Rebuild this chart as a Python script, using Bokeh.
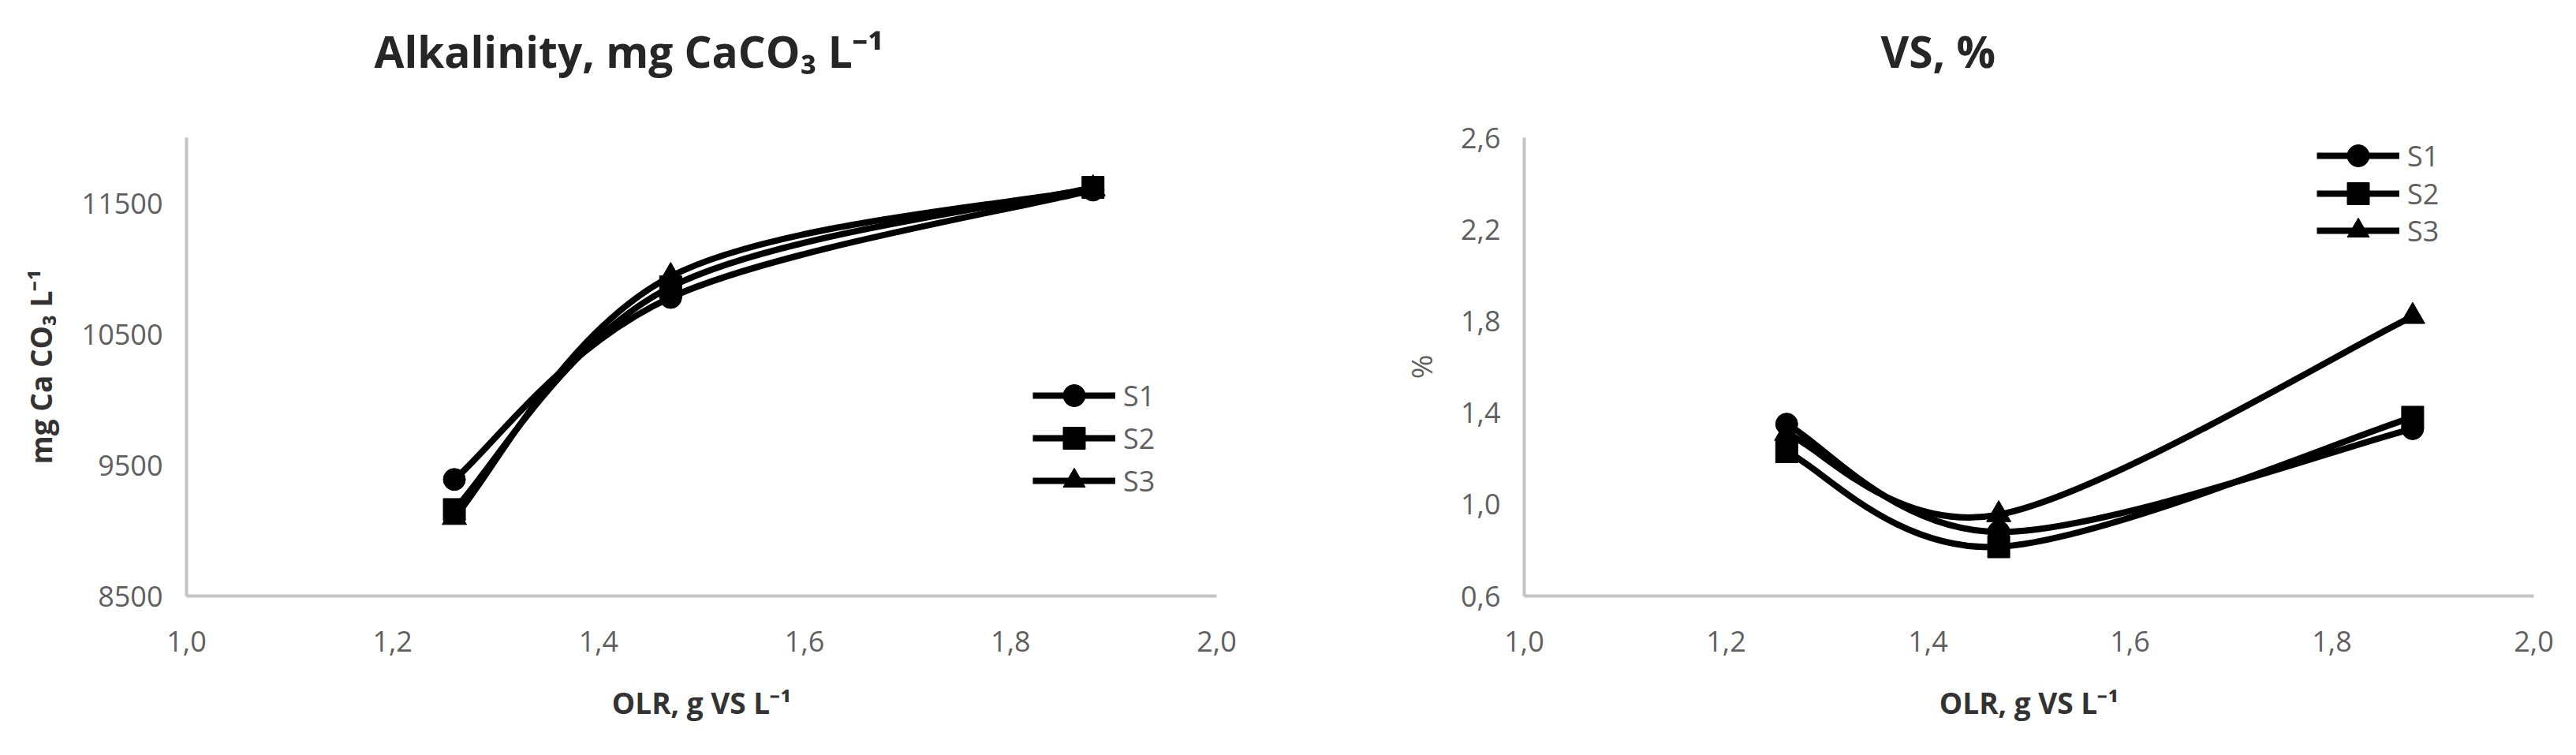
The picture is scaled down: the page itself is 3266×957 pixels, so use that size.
from bokeh.plotting import figure
from bokeh.models import FixedTicker, Legend, LegendItem, ColumnDataSource, Title
from bokeh.layouts import row
from bokeh.embed import file_html
from bokeh.resources import INLINE

# ---------------- data ----------------
olr = [1.26, 1.47, 1.88]
series_names = ["S1", "S2", "S3"]
alk_s1 = [9390, 10780, 11600]
alk_s2 = [9160, 10860, 11620]
alk_s3 = [9100, 10940, 11610]
vs_s1 = [1.35, 0.88, 1.33]
vs_s2 = [1.23, 0.815, 1.38]
vs_s3 = [1.31, 0.955, 1.82]
x_ticks = [1.0, 1.2, 1.4, 1.6, 1.8, 2.0]
x_tick_labels = ["1,0", "1,2", "1,4", "1,6", "1,8", "2,0"]
alk_ticks = [8500, 9500, 10500, 11500]
alk_tick_labels = ["8500", "9500", "10500", "11500"]
vs_ticks = [0.6, 1.0, 1.4, 1.8, 2.2, 2.6]
vs_tick_labels = ["0,6", "1,0", "1,4", "1,8", "2,2", "2,6"]
markers = ["circle", "square", "triangle"]
marker_sizes = [28, 28, 31]

FONT = "Open Sans"
TICK_COLOR = "#606060"
AXIS_COLOR = "#c4c4c4"


def smooth_segments(xs, ys):
    """Bezier control points (Excel-like smoothed line) for the data points."""
    n = len(xs)
    d = {k: [] for k in ("x0", "y0", "x1", "y1", "cx0", "cy0", "cx1", "cy1")}
    for i in range(n - 1):
        im = max(i - 1, 0)
        ip = min(i + 2, n - 1)
        d["x0"].append(xs[i]); d["y0"].append(ys[i])
        d["x1"].append(xs[i + 1]); d["y1"].append(ys[i + 1])
        d["cx0"].append(xs[i] + (xs[i + 1] - xs[im]) / 6.0)
        d["cy0"].append(ys[i] + (ys[i + 1] - ys[im]) / 6.0)
        d["cx1"].append(xs[i + 1] - (xs[ip] - xs[i]) / 6.0)
        d["cy1"].append(ys[i + 1] - (ys[ip] - ys[i]) / 6.0)
    return d


def make_panel(width, b_left, b_right, y_rng, y_ticks, y_labels, y_title,
               y_title_bold, y_title_standoff, title, title_offset, series,
               legend_x, legend_bottoms):
    p = figure(width=width, height=941, x_range=(1.0, 2.0), y_range=y_rng,
               output_backend="svg", toolbar_location=None,
               min_border_left=b_left, min_border_right=b_right,
               min_border_top=174, min_border_bottom=186)
    p.outline_line_color = None
    p.grid.visible = False
    p.background_fill_color = "white"

    p.title.text = title
    p.title.align = "left"
    p.title.offset = title_offset
    p.title.text_font = FONT
    p.title.text_font_size = "55px"
    p.title.text_font_style = "bold"
    p.title.text_color = "#262626"
    p.title.standoff = 0
    # empty spacer between the title and the plotting area
    p.add_layout(Title(text=" ", text_font_size="10px", standoff=60), "above")

    for ax in (p.xaxis[0], p.yaxis[0]):
        ax.axis_line_color = AXIS_COLOR
        ax.axis_line_width = 4
        ax.major_tick_line_color = None
        ax.minor_tick_line_color = None
        ax.major_tick_out = 0
        ax.major_tick_in = 0
        ax.major_label_text_font = FONT
        ax.major_label_text_font_size = "36px"
        ax.major_label_text_color = TICK_COLOR
        ax.axis_label_text_font = FONT
        ax.axis_label_text_font_size = "37px"

    xa = p.xaxis[0]
    xa.ticker = FixedTicker(ticks=x_ticks)
    xa.major_label_overrides = dict(zip(x_ticks, x_tick_labels))
    xa.major_label_standoff = 44
    xa.axis_label = "OLR, g VS L\u207b\u00b9"
    xa.axis_label_text_font_style = "bold"
    xa.axis_label_text_color = "#333333"
    xa.axis_label_standoff = 36

    ya = p.yaxis[0]
    ya.ticker = FixedTicker(ticks=y_ticks)
    ya.major_label_overrides = dict(zip(y_ticks, y_labels))
    ya.major_label_standoff = 30
    ya.axis_label = y_title
    if y_title_bold:
        ya.axis_label_text_font_style = "bold"
        ya.axis_label_text_color = "#333333"
    else:
        ya.axis_label_text_font_style = "normal"
        ya.axis_label_text_color = TICK_COLOR
    ya.axis_label_standoff = y_title_standoff

    for name, ys, mk, ms, vb in zip(series_names, series, markers,
                                    marker_sizes, legend_bottoms):
        src = ColumnDataSource(smooth_segments(olr, ys))
        br = p.bezier(x0="x0", y0="y0", x1="x1", y1="y1", cx0="cx0", cy0="cy0",
                      cx1="cx1", cy1="cy1", source=src, line_color="black",
                      line_width=8)
        sr = p.scatter(olr, ys, marker=mk, size=ms, fill_color="black",
                       line_color="black")
        leg = Legend(items=[LegendItem(label=name, renderers=[br, sr])],
                     location=(legend_x, vb), orientation="vertical",
                     glyph_width=105, glyph_height=70, label_height=70,
                     spacing=0, padding=0, margin=0, label_standoff=10,
                     label_text_font=FONT, label_text_font_size="36px",
                     label_text_color=TICK_COLOR, border_line_color=None,
                     background_fill_alpha=0)
        p.add_layout(leg)
    return p


p1 = make_panel(1625, 236, 83, (8500, 12000), alk_ticks, alk_tick_labels,
                "mg Ca CO\u2083 L\u207b\u00b9", True, 24,
                "Alkalinity, mg CaCO\u2083 L\u207b\u00b9", 238,
                [alk_s1, alk_s2, alk_s3], 1073, [219, 165, 111])
p2 = make_panel(1625, 307, 38, (0.6, 2.6), vs_ticks, vs_tick_labels,
                "%", False, 22, "VS, %", 452,
                [vs_s1, vs_s2, vs_s3], 1005, [523, 475, 428])

layout = row(p1, p2)
open("out.html", "w").write(file_html(layout, INLINE))
